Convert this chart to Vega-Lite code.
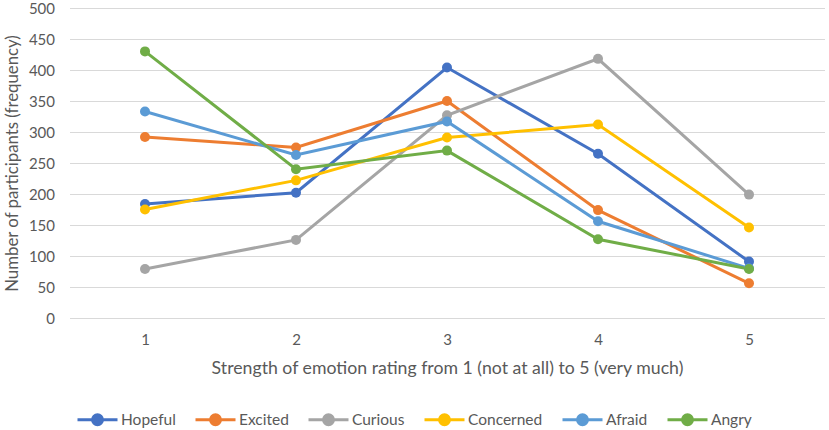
{
  "$schema": "https://vega.github.io/schema/vega-lite/v6.json",
  "autosize": "none",
  "width": 755,
  "height": 310,
  "padding": {"left": 69.5, "top": 8, "right": 4.5, "bottom": 112},
  "background": "white",
  "config": {
    "font": "Lato",
    "view": {"stroke": null},
    "axis": {"labelColor": "#595959", "titleColor": "#595959", "titleFontWeight": "normal", "ticks": false, "domain": false}
  },
  "data": {"values": [
    {"emotion": "Hopeful", "rating": 1, "n": 184},
    {"emotion": "Hopeful", "rating": 2, "n": 202},
    {"emotion": "Hopeful", "rating": 3, "n": 404},
    {"emotion": "Hopeful", "rating": 4, "n": 265},
    {"emotion": "Hopeful", "rating": 5, "n": 91},
    {"emotion": "Excited", "rating": 1, "n": 292},
    {"emotion": "Excited", "rating": 2, "n": 275},
    {"emotion": "Excited", "rating": 3, "n": 350},
    {"emotion": "Excited", "rating": 4, "n": 174},
    {"emotion": "Excited", "rating": 5, "n": 56},
    {"emotion": "Curious", "rating": 1, "n": 79},
    {"emotion": "Curious", "rating": 2, "n": 126},
    {"emotion": "Curious", "rating": 3, "n": 327},
    {"emotion": "Curious", "rating": 4, "n": 418},
    {"emotion": "Curious", "rating": 5, "n": 199},
    {"emotion": "Concerned", "rating": 1, "n": 175},
    {"emotion": "Concerned", "rating": 2, "n": 222},
    {"emotion": "Concerned", "rating": 3, "n": 291},
    {"emotion": "Concerned", "rating": 4, "n": 312},
    {"emotion": "Concerned", "rating": 5, "n": 146},
    {"emotion": "Afraid", "rating": 1, "n": 333},
    {"emotion": "Afraid", "rating": 2, "n": 263},
    {"emotion": "Afraid", "rating": 3, "n": 317},
    {"emotion": "Afraid", "rating": 4, "n": 156},
    {"emotion": "Afraid", "rating": 5, "n": 80},
    {"emotion": "Angry", "rating": 1, "n": 430},
    {"emotion": "Angry", "rating": 2, "n": 240},
    {"emotion": "Angry", "rating": 3, "n": 270},
    {"emotion": "Angry", "rating": 4, "n": 127},
    {"emotion": "Angry", "rating": 5, "n": 79}
  ]},
  "encoding": {
    "x": {"field": "rating", "type": "quantitative",
      "scale": {"domain": [0.5, 5.5], "nice": false, "zero": false},
      "axis": {"values": [1, 2, 3, 4, 5], "grid": false, "labelFontSize": 15, "labelPadding": 14,
        "title": "Strength of emotion rating from 1 (not at all) to 5 (very much)", "titleFontSize": 17.7,
        "titleY": 50, "titleBaseline": "middle"}},
    "y": {"field": "n", "type": "quantitative",
      "scale": {"domain": [0, 500], "nice": false},
      "axis": {"values": [0, 50, 100, 150, 200, 250, 300, 350, 400, 450, 500], "gridColor": "#d9d9d9", "gridWidth": 1.2,
        "labelFontSize": 15, "labelPadding": 15,
        "title": "Number of participants (frequency)", "titleFontSize": 16.8,
        "titleX": -57.5, "titleY": 155, "titleAngle": -90, "titleBaseline": "middle", "titleAlign": "center"}},
    "color": {"field": "emotion", "type": "nominal",
      "scale": {"domain": ["Hopeful", "Excited", "Curious", "Concerned", "Afraid", "Angry"],
        "range": ["#4472C4", "#ED7D31", "#A5A5A5", "#FFC000", "#5B9BD5", "#70AD47"]},
      "legend": {"title": null, "orient": "none", "direction": "horizontal", "legendX": 6.5, "legendY": 390,
        "symbolType": "M-1,0H1M0.25,0A0.25,0.25,0,1,1,-0.25,0A0.25,0.25,0,1,1,0.25,0Z",
        "symbolSize": 1600, "symbolStrokeWidth": 3, "labelFontSize": 15.5, "labelColor": "#595959",
        "labelOffset": 2, "columnPadding": 13,
        "encode": {"symbols": {"update": {"fill": {"scale": "color", "field": "value"}, "stroke": {"scale": "color", "field": "value"}, "opacity": {"value": 1}}}}}}
  },
  "layer": [
    {"mark": {"type": "line", "strokeWidth": 3}},
    {"mark": {"type": "point", "filled": true, "size": 100, "opacity": 1}}
  ]
}
